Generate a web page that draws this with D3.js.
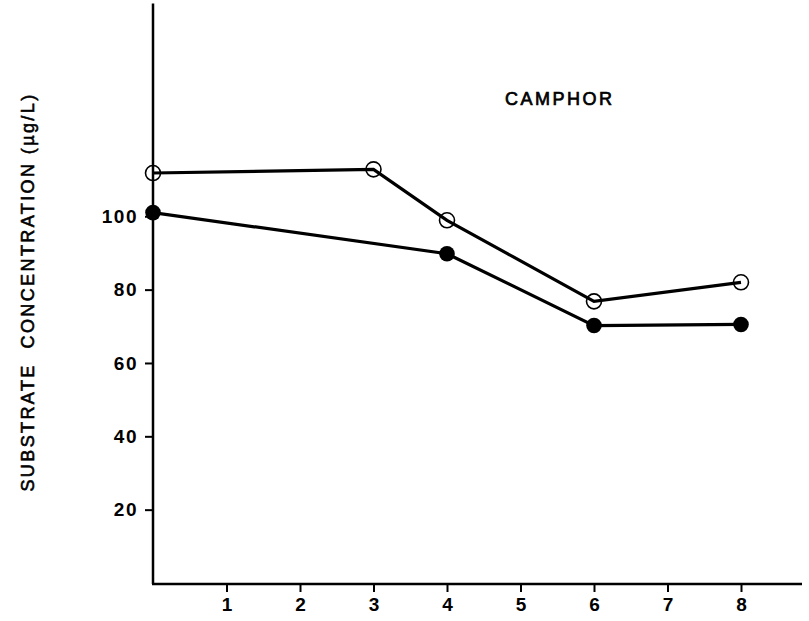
<!DOCTYPE html>
<html>
<head>
<meta charset="utf-8">
<script src="https://cdn.jsdelivr.net/npm/d3@7"></script>
<style>
  html, body { margin: 0; padding: 0; background: #fff; }
  svg { display: block; }
  text { font-family: "Liberation Sans", Arial, sans-serif; fill: #000; }
</style>
</head>
<body>
<svg id="chart" width="809" height="621"></svg>
<script>
// Sampling times and measured concentrations
const times = [0, 3, 4, 6, 8];
const openSeries = [111.8, 112.8, 98.9, 76.8, 82];
const filledSeries = [101, null, 89.8, 70.2, 70.5];
const xTicks = [1, 2, 3, 4, 5, 6, 7, 8];
const yTicks = [20, 40, 60, 80, 100];
const title = "CAMPHOR";
const yTitle = "SUBSTRATE\u00a0\u00a0CONCENTRATION (\u00b5g/L)";

const svg = d3.select("#chart");

const x = d3.scaleLinear().domain([0, 8.83]).range([153, 802]);
const y = d3.scaleLinear().domain([0, 158]).range([583, 3.6]);

// Axis lines
svg.append("line")
  .attr("x1", x(0)).attr("x2", x(0))
  .attr("y1", y(158)).attr("y2", y(0) + 1)
  .attr("stroke", "#000").attr("stroke-width", 2.5);
svg.append("line")
  .attr("x1", x(0) - 1).attr("x2", x(8.83))
  .attr("y1", y(0) + 1).attr("y2", y(0) + 1)
  .attr("stroke", "#000").attr("stroke-width", 2.5);

// Y axis ticks and labels
const yAxis = d3.axisLeft(y).tickValues(yTicks).tickSize(8).tickSizeOuter(0).tickPadding(7);
const gy = svg.append("g").attr("transform", `translate(${x(0)},0)`).call(yAxis);
gy.select(".domain").remove();
gy.selectAll(".tick line").attr("stroke", "#000").attr("stroke-width", 2);
gy.selectAll(".tick text")
  .attr("font-family", "Liberation Sans, Arial, sans-serif")
  .attr("font-size", 19).attr("font-weight", "bold")
  .attr("letter-spacing", 1.5)
  .attr("fill", "#000");

// X axis ticks and labels
const xAxis = d3.axisBottom(x).tickValues(xTicks).tickSize(7).tickSizeOuter(0).tickPadding(6);
const gx = svg.append("g").attr("transform", `translate(0,${y(0) + 2})`).call(xAxis);
gx.select(".domain").remove();
gx.selectAll(".tick line").attr("stroke", "#000").attr("stroke-width", 2);
gx.selectAll(".tick text")
  .attr("font-family", "Liberation Sans, Arial, sans-serif")
  .attr("font-size", 19).attr("font-weight", "bold")
  .attr("fill", "#000");

// Series lines
const line = d3.line()
  .defined(d => d.v !== null)
  .x(d => x(d.t))
  .y(d => y(d.v));

const openData = times.map((t, i) => ({ t, v: openSeries[i] }));
const filledData = times.map((t, i) => ({ t, v: filledSeries[i] })).filter(d => d.v !== null);

// Open circles sit beneath the line so the line shows through them
svg.selectAll("circle.open").data(openData).enter().append("circle")
  .attr("class", "open")
  .attr("cx", d => x(d.t)).attr("cy", d => y(d.v))
  .attr("r", 7.5)
  .attr("fill", "none").attr("stroke", "#000").attr("stroke-width", 1.6);

svg.append("path").datum(openData)
  .attr("d", line)
  .attr("fill", "none").attr("stroke", "#000").attr("stroke-width", 3.2);

svg.append("path").datum(filledData)
  .attr("d", line)
  .attr("fill", "none").attr("stroke", "#000").attr("stroke-width", 3.2);

svg.selectAll("circle.filled").data(filledData).enter().append("circle")
  .attr("class", "filled")
  .attr("cx", d => x(d.t)).attr("cy", d => y(d.v))
  .attr("r", 7.8)
  .attr("fill", "#000");

// Panel title
svg.append("text")
  .attr("x", 505).attr("y", 105)
  .attr("font-size", 18)
  .attr("stroke", "#000").attr("stroke-width", 0.7)
  .attr("textLength", 107).attr("lengthAdjust", "spacing")
  .text(title);

// Y axis title
svg.append("text")
  .attr("transform", "translate(34,292) rotate(-90)")
  .attr("text-anchor", "middle")
  .attr("font-size", 18)
  .attr("letter-spacing", 2.4)
  .attr("stroke", "#000").attr("stroke-width", 0.6)
  .text(yTitle);
</script>
</body>
</html>
